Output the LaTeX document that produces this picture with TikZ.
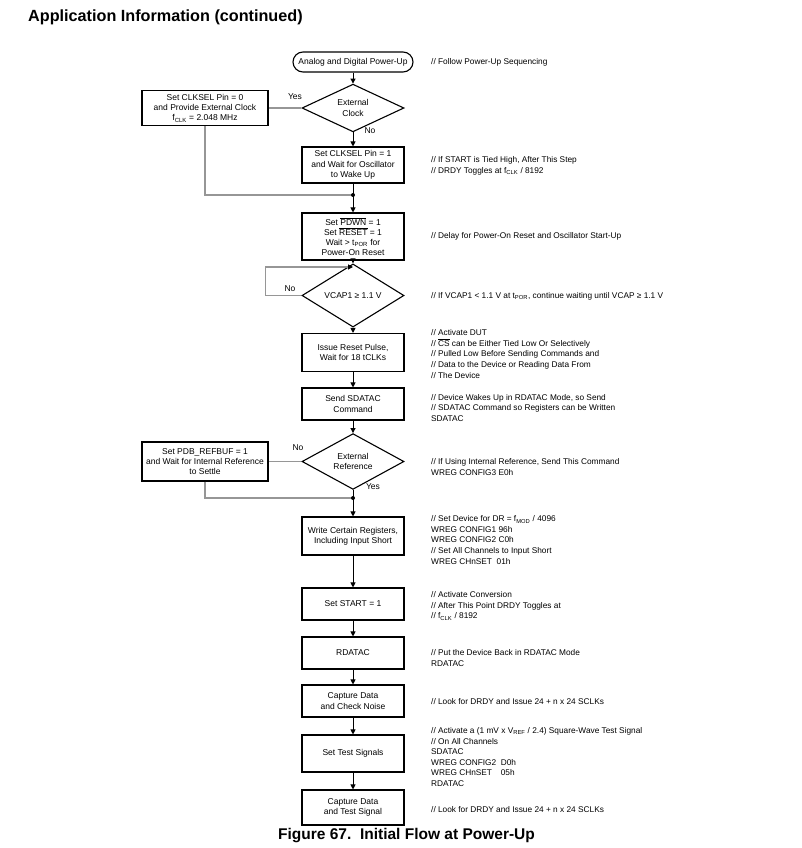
\documentclass[tikz,border=0pt]{standalone}
\usepackage{fontspec}
\setmainfont{Liberation Sans}
\usetikzlibrary{shapes.geometric,arrows.meta}
\definecolor{loopgray}{RGB}{150,150,150}
\newcommand{\sbs}[1]{\textsubscript{#1}}
\newcommand{\ovl}[1]{$\overline{\mbox{#1}}$}

\begin{document}
\begin{tikzpicture}[x=1pt,y=-1pt,>={Triangle[length=5pt,width=5pt]},
  box/.style={draw,line width=1.1pt,minimum width=102pt,inner sep=0pt,align=center,font=\fontsize{8.5}{10.3}\selectfont},
  sidebox/.style={box,minimum width=126pt},
  decide/.style={draw,shape=diamond,line width=1.1pt,minimum width=102pt,minimum height=36pt,inner sep=0pt,align=center,font=\fontsize{8.5}{10.3}\selectfont},
  note/.style={anchor=west,align=left,inner sep=0pt,font=\fontsize{8.3}{10.6}\selectfont},
  lab/.style={inner sep=0pt,font=\fontsize{8.5}{10}\selectfont},
  flow/.style={->,line width=0.9pt},
  back/.style={line width=1.1pt,draw=loopgray}]
\useasboundingbox (0,0) rectangle (802,848);
\node[anchor=base west,inner sep=0pt,font=\fontsize{16.2}{19}\bfseries] (title) at (28,22) {Application Information (continued)};

\node[box,rounded corners=10pt,minimum width=120pt,minimum height=20pt] (pwr) at (353,62) {Analog and Digital Power-Up};
\node[decide,minimum height=34pt] (xclk) at (353,108) {External\\Clock};
\node[sidebox,minimum height=35pt] (clk0) at (205,108) {Set CLKSEL Pin = 0\\and Provide External Clock\\f\sbs{CLK} = 2.048 MHz};
\node[box,minimum height=36pt] (clk1) at (353,165) {Set CLKSEL Pin = 1\\and Wait for Oscillator\\to Wake Up};
\coordinate (j1) at (353,195);
\node[box,minimum height=47pt,font=\fontsize{8.5}{9.8}\selectfont] (pdwn) at (353,236.5) {Set \ovl{PDWN} = 1\\Set \ovl{RESET} = 1\\Wait > t\sbs{POR} for\\Power-On Reset};
\coordinate (lp) at (353,267);
\node[decide,minimum height=37pt] (vcap) at (353,295.5) {VCAP1 ≥ 1.1 V};
\node[box,minimum height=38pt] (rst) at (353,352.5) {Issue Reset Pulse,\\Wait for 18 tCLKs};
\node[box,minimum height=32pt] (sdatac) at (353,404) {Send SDATAC\\Command};
\node[decide,minimum height=37pt] (xref) at (353,461.5) {External\\Reference};
\node[sidebox,minimum height=39pt] (refbuf) at (205,461.5) {Set PDB\_REFBUF = 1\\and Wait for Internal Reference\\to Settle};
\coordinate (j2) at (353,498);
\node[box,minimum height=38pt] (wreg) at (353,536) {Write Certain Registers,\\Including Input Short};
\node[box,minimum height=32pt] (start) at (353,604) {Set START = 1};
\node[box,minimum height=32pt] (rdatac) at (353,653) {RDATAC};
\node[box,minimum height=32pt] (noise) at (353,701) {Capture Data\\and Check Noise};
\node[box,minimum height=37pt] (tsig) at (353,753.5) {Set Test Signals};
\node[box,minimum height=35pt] (capt) at (353,807.5) {Capture Data\\and Test Signal};

\draw[flow] (pwr) -- (xclk);
\draw[flow] (xclk) -- (clk1);
\draw[back] (xclk.west) -- (clk0.east);
\draw[back] (clk0.south) |- (j1);
\draw[flow] (clk1) -- (pdwn);
\fill (j1) circle (2);
\draw[flow] (pdwn) -- (vcap);
\draw[back,-{Triangle[length=5pt,width=5pt,color=black]}] (vcap.west) -- ++(-36,0) |- (lp);
\draw[flow] (vcap) -- (rst);
\draw[flow] (rst) -- (sdatac);
\draw[flow] (sdatac) -- (xref);
\draw[back] (xref.west) -- (refbuf.east);
\draw[back] (refbuf.south) |- (j2);
\draw[flow] (xref) -- (wreg);
\fill (j2) circle (2);
\draw[flow] (wreg) -- (start);
\draw[flow] (start) -- (rdatac);
\draw[flow] (rdatac) -- (noise);
\draw[flow] (noise) -- (tsig);
\draw[flow] (tsig) -- (capt);

\node[lab] (yes1) at (295,97) {Yes};
\node[lab] (no1) at (370,131) {No};
\node[lab] (no2) at (290,289) {No};
\node[lab] (no3) at (298,448) {No};
\node[lab] (yes2) at (373,487) {Yes};

\node[note] (c1) at (431,62) {// Follow Power-Up Sequencing};
\node[note] (c2) at (431,166) {// If START is Tied High, After This Step\\// DRDY Toggles at f\sbs{CLK} / 8192};
\node[note] (c3) at (431,236) {// Delay for Power-On Reset and Oscillator Start-Up};
\node[note] (c4) at (431,296) {// If VCAP1 < 1.1 V at t\sbs{POR}, continue waiting until VCAP ≥ 1.1 V};
\node[note] (c5) at (431,354) {// Activate DUT\\// \ovl{CS} can be Either Tied Low Or Selectively\\// Pulled Low Before Sending Commands and\\// Data to the Device or Reading Data From\\// The Device};
\node[note] (c6) at (431,408) {// Device Wakes Up in RDATAC Mode, so Send\\// SDATAC Command so Registers can be Written\\SDATAC};
\node[note] (c7) at (431,467) {// If Using Internal Reference, Send This Command\\WREG CONFIG3 E0h};
\node[note] (c8) at (431,540) {// Set Device for DR = f\sbs{MOD} / 4096\\WREG CONFIG1 96h\\WREG CONFIG2 C0h\\// Set All Channels to Input Short\\WREG CHnSET\ \ 01h};
\node[note] (c9) at (431,606) {// Activate Conversion\\// After This Point DRDY Toggles at\\// f\sbs{CLK} / 8192};
\node[note] (c10) at (431,658) {// Put the Device Back in RDATAC Mode\\RDATAC};
\node[note] (c11) at (431,702) {// Look for DRDY and Issue 24 + n x 24 SCLKs};
\node[note] (c12) at (431,757) {// Activate a (1 mV x V\sbs{REF} / 2.4) Square-Wave Test Signal\\// On All Channels\\SDATAC\\WREG CONFIG2\ \ D0h\\\rlap{WREG CHnSET}\phantom{WREG CONFIG2\ \ }05h\\RDATAC};
\node[note] (c13) at (431,810) {// Look for DRDY and Issue 24 + n x 24 SCLKs};

\node[anchor=base west,inner sep=0pt,font=\fontsize{15.5}{18}\bfseries] (fig) at (278,839) {Figure 67.\ \ Initial Flow at Power-Up};
\end{tikzpicture}
\end{document}
